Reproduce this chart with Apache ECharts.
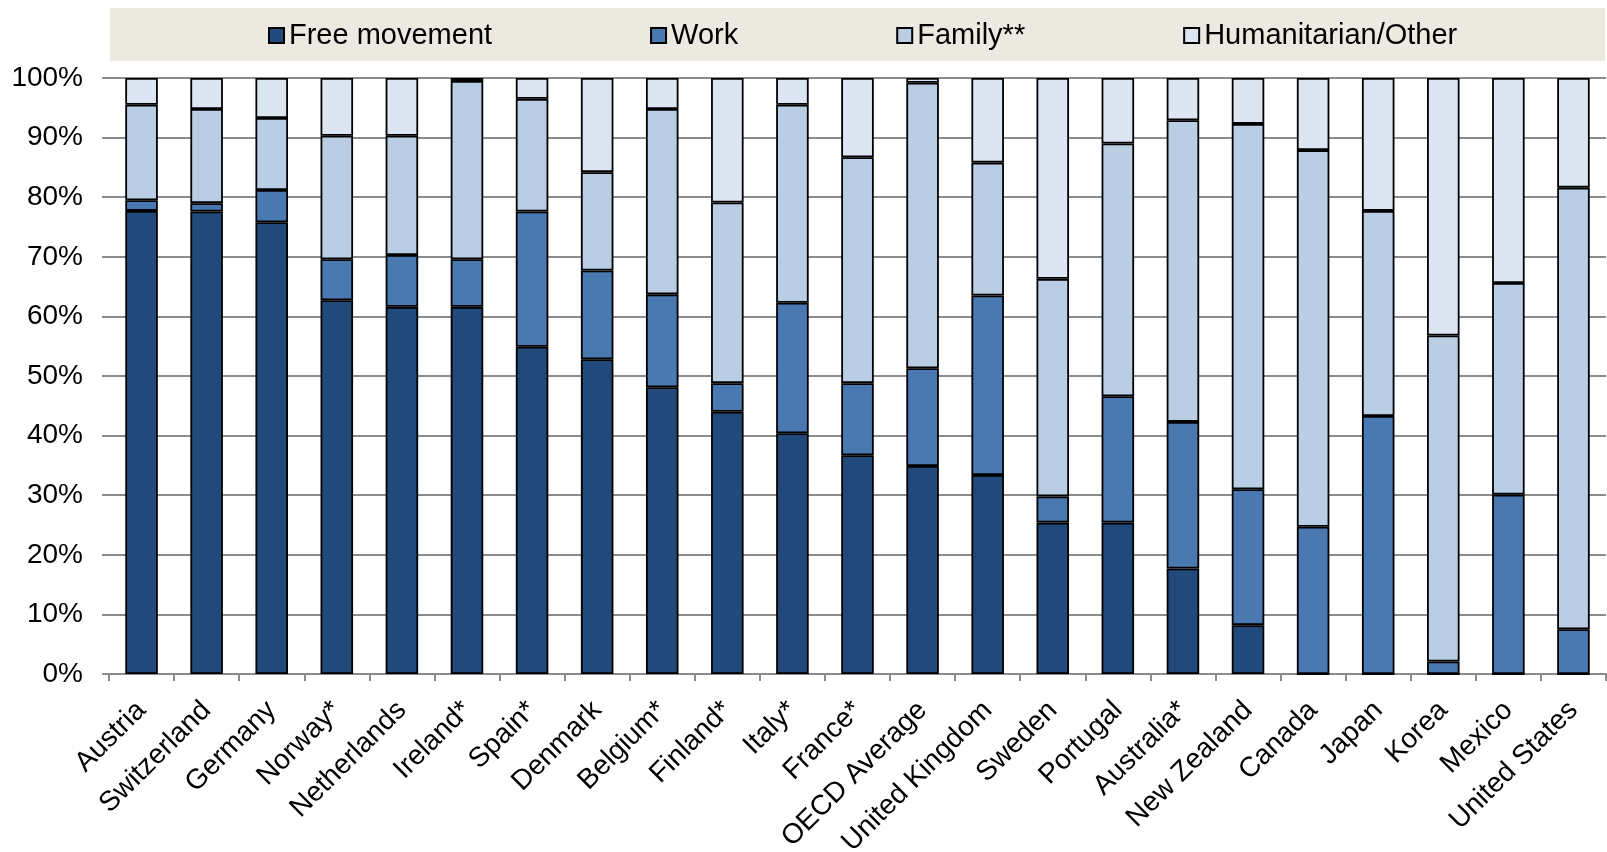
<!DOCTYPE html>
<html>
<head>
<meta charset="utf-8">
<script src="https://cdn.jsdelivr.net/npm/echarts@6/dist/echarts.min.js"></script>
<style>
  html, body { margin: 0; padding: 0; background: #ffffff; }
  #chart { width: 1607px; height: 852px; }
</style>
</head>
<body>
<div id="chart"></div>
<script>
// Share of permanent migration by category of entry (%)
const categories = ['Austria', 'Switzerland', 'Germany', 'Norway*', 'Netherlands', 'Ireland*', 'Spain*',
  'Denmark', 'Belgium*', 'Finland*', 'Italy*', 'France*', 'OECD Average', 'United Kingdom', 'Sweden',
  'Portugal', 'Australia*', 'New Zealand', 'Canada', 'Japan', 'Korea', 'Mexico', 'United States'];

const freeMovement = [77.7, 77.6, 75.8, 62.7, 61.6, 61.6, 54.9, 52.8, 48.1, 44.0, 40.4, 36.7, 34.9, 33.4,
  25.4, 25.4, 17.7, 8.2, 0, 0, 0, 0, 0];
const work = [1.8, 1.4, 5.4, 6.9, 8.7, 8.0, 22.7, 14.9, 15.6, 4.8, 21.9, 12.1, 16.4, 30.1,
  4.4, 21.2, 24.6, 22.8, 24.7, 43.3, 2.1, 30.1, 7.5];
const family = [16.0, 15.8, 12.1, 20.7, 20.0, 29.9, 18.9, 16.5, 31.1, 30.3, 33.2, 37.9, 47.9, 22.3,
  36.5, 42.4, 50.6, 61.3, 63.2, 34.4, 54.7, 35.5, 74.1];
const humanitarian = [4.5, 5.2, 6.7, 9.7, 9.7, 0.5, 3.5, 15.8, 5.2, 20.9, 4.5, 13.3, 0.8, 14.2,
  33.7, 11.0, 7.1, 7.7, 12.1, 22.3, 43.2, 34.4, 18.4];

const seriesNames = ['Free movement', 'Work', 'Family**', 'Humanitarian/Other'];
const seriesColors = ['#214A7B', '#4A78B0', '#B9CDE5', '#DCE6F2'];
const seriesData = [freeMovement, work, family, humanitarian];

const FONT = 'Liberation Sans, Arial, sans-serif';

const chart = echarts.init(document.getElementById('chart'), null, { renderer: 'canvas' });

chart.setOption({
  animation: false,
  backgroundColor: '#ffffff',
  graphic: [{
    type: 'rect',
    z: -1,
    shape: { x: 110, y: 8, width: 1495, height: 53 },
    style: { fill: '#ECEAE0' }
  }],
  legend: {
    top: 16,
    left: 263,
    itemGap: 158,
    itemWidth: 15,
    itemHeight: 15,
    icon: 'rect',
    textStyle: { fontFamily: FONT, fontSize: 29, color: '#000' },
    data: seriesNames
  },
  grid: {
    left: 109, right: 1, top: 78, bottom: 178,
    containLabel: false,
    outerBoundsMode: 'none'
  },
  xAxis: {
    type: 'category',
    data: categories,
    axisLine: { lineStyle: { color: '#8C8C8C', width: 2 } },
    axisTick: { show: true, length: 7, lineStyle: { color: '#8C8C8C', width: 2 } },
    axisLabel: {
      rotate: 45,
      interval: 0,
      margin: 32,
      fontFamily: FONT,
      fontSize: 28,
      color: '#000'
    }
  },
  yAxis: {
    type: 'value',
    min: 0,
    max: 100,
    interval: 10,
    axisLine: { show: false },
    axisTick: { show: true, length: 7, lineStyle: { color: '#8C8C8C', width: 2 } },
    splitLine: { lineStyle: { color: '#8C8C8C', width: 2 } },
    axisLabel: {
      formatter: '{value}%',
      margin: 26,
      fontFamily: FONT,
      fontSize: 28,
      color: '#000'
    }
  },
  series: seriesNames.map((name, i) => ({
    name: name,
    type: 'bar',
    stack: 'total',
    barWidth: '50%',
    data: seriesData[i],
    itemStyle: { color: seriesColors[i], borderColor: '#000', borderWidth: 1.8 }
  }))
});
</script>
</body>
</html>
